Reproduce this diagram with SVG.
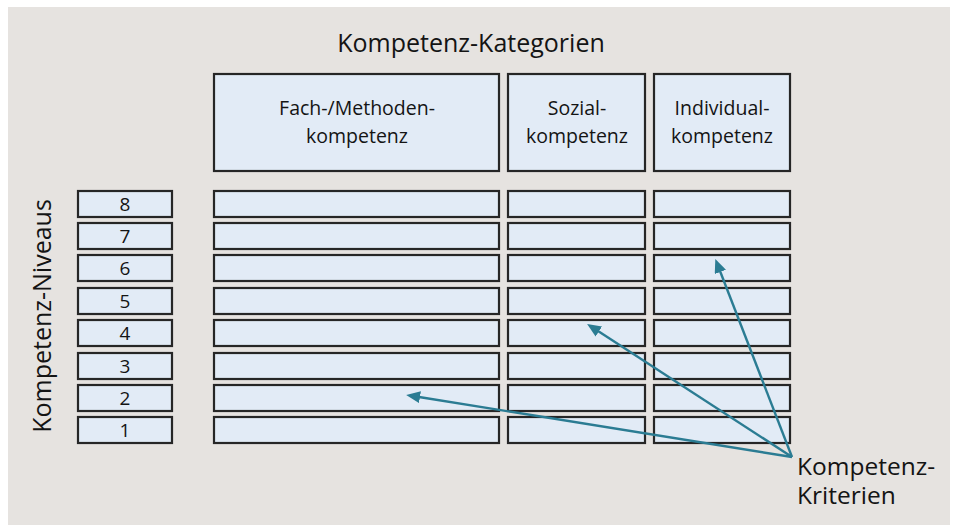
<svg xmlns="http://www.w3.org/2000/svg" width="955" height="525" viewBox="0 0 955 525">
  <style>
    .cell { fill: #e2ebf6; stroke: #262626; stroke-width: 2.2; }
    .txt { font-family: "Open Sans", "Noto Sans", "DejaVu Sans", sans-serif; fill: #141414; }
    .hdr { font-size: 19.5px; text-anchor: middle; }
    .num { font-size: 19px; text-anchor: middle; }
    .big { font-size: 25px; }
    .crit { font-size: 24.5px; }
    .link { stroke: #2b7c93; stroke-width: 2.4; fill: none; marker-end: url(#tip); }
  </style>
  <defs>
    <marker id="tip" viewBox="0 0 14 12" refX="1" refY="6" markerWidth="14" markerHeight="12" markerUnits="userSpaceOnUse" orient="auto">
      <path d="M0,0 L14,6 L0,12 Z" fill="#2b7c93"/>
    </marker>
  </defs>

  <!-- panel -->
  <rect x="0" y="0" width="955" height="525" fill="#ffffff"/>
  <rect x="8" y="7" width="942" height="518" fill="#e6e3e0"/>

  <text class="txt big" x="471" y="52" text-anchor="middle">Kompetenz-Kategorien</text>
  <text class="txt big" transform="translate(51 316) rotate(-90)" text-anchor="middle">Kompetenz-Niveaus</text>

  <!-- category headers -->
  <g id="cat-fach">
    <rect class="cell" x="214" y="74" width="285" height="97"/>
    <text class="txt hdr" x="357" y="115">Fach-/Methoden-</text>
    <text class="txt hdr" x="357" y="143">kompetenz</text>
  </g>
  <g id="cat-sozial">
    <rect class="cell" x="508" y="74" width="137" height="97"/>
    <text class="txt hdr" x="577" y="115">Sozial-</text>
    <text class="txt hdr" x="577" y="143">kompetenz</text>
  </g>
  <g id="cat-individual">
    <rect class="cell" x="654" y="74" width="136" height="97"/>
    <text class="txt hdr" x="722" y="115">Individual-</text>
    <text class="txt hdr" x="722" y="143">kompetenz</text>
  </g>

  <!-- level rows, 8 at top -->
  <g id="level-8">
    <rect class="cell" x="78" y="191" width="94" height="26"/>
    <text class="txt num" x="125" y="211">8</text>
    <rect class="cell" x="214" y="191" width="285" height="26"/>
    <rect class="cell" x="508" y="191" width="137" height="26"/>
    <rect class="cell" x="654" y="191" width="136" height="26"/>
  </g>
  <g id="level-7">
    <rect class="cell" x="78" y="223" width="94" height="26"/>
    <text class="txt num" x="125" y="243">7</text>
    <rect class="cell" x="214" y="223" width="285" height="26"/>
    <rect class="cell" x="508" y="223" width="137" height="26"/>
    <rect class="cell" x="654" y="223" width="136" height="26"/>
  </g>
  <g id="level-6">
    <rect class="cell" x="78" y="255" width="94" height="26"/>
    <text class="txt num" x="125" y="275">6</text>
    <rect class="cell" x="214" y="255" width="285" height="26"/>
    <rect class="cell" x="508" y="255" width="137" height="26"/>
    <rect class="cell" x="654" y="255" width="136" height="26"/>
  </g>
  <g id="level-5">
    <rect class="cell" x="78" y="288" width="94" height="26"/>
    <text class="txt num" x="125" y="308">5</text>
    <rect class="cell" x="214" y="288" width="285" height="26"/>
    <rect class="cell" x="508" y="288" width="137" height="26"/>
    <rect class="cell" x="654" y="288" width="136" height="26"/>
  </g>
  <g id="level-4">
    <rect class="cell" x="78" y="320" width="94" height="26"/>
    <text class="txt num" x="125" y="340">4</text>
    <rect class="cell" x="214" y="320" width="285" height="26"/>
    <rect class="cell" x="508" y="320" width="137" height="26"/>
    <rect class="cell" x="654" y="320" width="136" height="26"/>
  </g>
  <g id="level-3">
    <rect class="cell" x="78" y="353" width="94" height="26"/>
    <text class="txt num" x="125" y="373">3</text>
    <rect class="cell" x="214" y="353" width="285" height="26"/>
    <rect class="cell" x="508" y="353" width="137" height="26"/>
    <rect class="cell" x="654" y="353" width="136" height="26"/>
  </g>
  <g id="level-2">
    <rect class="cell" x="78" y="385" width="94" height="26"/>
    <text class="txt num" x="125" y="405">2</text>
    <rect class="cell" x="214" y="385" width="285" height="26"/>
    <rect class="cell" x="508" y="385" width="137" height="26"/>
    <rect class="cell" x="654" y="385" width="136" height="26"/>
  </g>
  <g id="level-1">
    <rect class="cell" x="78" y="417" width="94" height="26"/>
    <text class="txt num" x="125" y="437">1</text>
    <rect class="cell" x="214" y="417" width="285" height="26"/>
    <rect class="cell" x="508" y="417" width="137" height="26"/>
    <rect class="cell" x="654" y="417" width="136" height="26"/>
  </g>

  <!-- criteria pointers -->
  <g id="connectors">
    <line class="link" x1="792" y1="457" x2="419" y2="397"/>
    <line class="link" x1="792" y1="457" x2="598" y2="331"/>
    <line class="link" x1="792" y1="457" x2="720" y2="271"/>
  </g>

  <g id="criteria-label">
    <text class="txt crit" x="797" y="475">Kompetenz-</text>
    <text class="txt crit" x="797" y="504">Kriterien</text>
  </g>
</svg>
